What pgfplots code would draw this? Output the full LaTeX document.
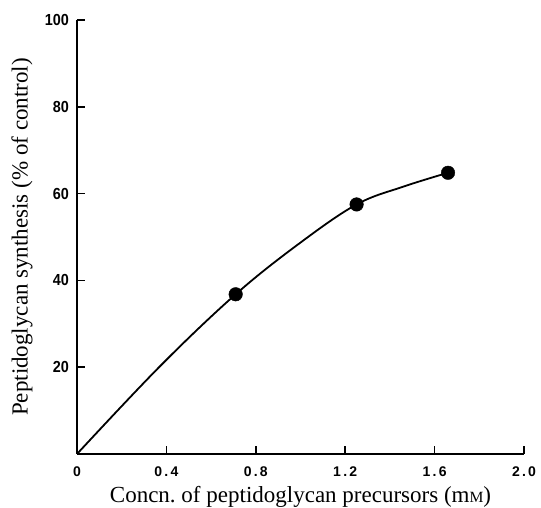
\documentclass[border=0pt]{standalone}
\usepackage{fontspec}
\setmainfont{Liberation Serif}
\newfontfamily\tickfont[LetterSpace=16]{Liberation Sans}
\newfontfamily\ytickfont[FakeStretch=0.9]{Liberation Sans}
\usepackage{pgfplots}
\pgfplotsset{compat=1.18}
\begin{document}
\begin{tikzpicture}
\begin{axis}[
  scale only axis, width=447pt, height=434pt,
  xmin=0, xmax=2, ymin=0, ymax=100,
  axis lines*=left,
  axis line style={line width=2pt, black},
  xtick={0,0.4,0.8,1.2,1.6,2.0},
  xticklabels={0,0.4,0.8,1.2,1.6,2.0},
  ytick={20,40,60,80,100},
  yticklabels={20,40,60,80,100},
  tick align=inside,
  major tick length=8pt,
  tick style={line width=1.6pt, black},
  x tick label style={font=\tickfont\bfseries\fontsize{14}{15}\selectfont, anchor=base, yshift=-23pt, inner sep=0pt},
  y tick label style={font=\ytickfont\bfseries\fontsize{16}{17}\selectfont, anchor=east, xshift=-8pt, inner sep=0pt},
  xlabel={Concn.\ of peptidoglycan precursors (m{\fontsize{15.6}{16}\selectfont M})},
  xlabel style={font=\fontsize{23}{25}\selectfont, at={(axis description cs:0.5,0)}, anchor=base, yshift=-48.7pt, inner sep=0pt},
  ylabel={Peptidoglycan synthesis (\% of control)},
  ylabel style={font=\fontsize{23}{25}\selectfont, at={(axis description cs:0,0.5)}, anchor=center, yshift=55pt, inner sep=0pt},
  clip=false,
]
\coordinate (O) at (axis cs:0,0);
\addplot[black, line width=1.8pt, smooth, tension=0.6] coordinates {
  (0,0) (0.371,20.2) (0.71,36.8) (0.997,48.6) (1.251,57.5) (1.46,61.6) (1.66,64.8)
};
\addplot[only marks, mark=*, mark size=6.8pt, black] coordinates {
  (0.71,36.8) (1.251,57.5) (1.66,64.8)
};
\end{axis}
\pgfresetboundingbox
\path[use as bounding box] ([shift={(-77pt,-54pt)}]O) rectangle ([shift={(464pt,454pt)}]O);
\end{tikzpicture}
\end{document}
